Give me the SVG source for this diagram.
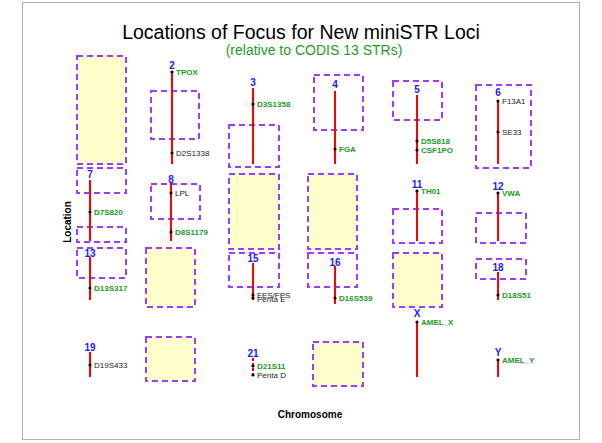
<svg xmlns="http://www.w3.org/2000/svg" width="602" height="443" viewBox="0 0 602 443">
<style>
text{font-family:"Liberation Sans",Arial,sans-serif}
.frame{fill:#fff;stroke:#b0b0b0;stroke-width:1}
.box{fill:none;stroke:#9d3cff;stroke-width:2;stroke-dasharray:6,4}
.ybox{fill:#ffffcc;stroke:#9d3cff;stroke-width:2;stroke-dasharray:6,4}
.chr{stroke:#ff0000;stroke-width:2}
.num{font-size:10px;font-weight:bold;fill:#1a1aff;text-anchor:middle}
.g{font-size:8px;font-weight:bold;fill:#229922}
.k{font-size:8px;fill:#222}
.dot{fill:#000}
.title{font-size:19.5px;fill:#000;text-anchor:middle}
.sub{font-size:14px;fill:#1f9a1f;text-anchor:middle}
.axis{font-size:10px;font-weight:bold;fill:#000;text-anchor:middle}
</style>
<rect class="frame" x="22.5" y="2.5" width="557" height="437"/>
<text class="title" x="301" y="39">Locations of Focus for New miniSTR Loci</text>
<text class="sub" x="314" y="55">(relative to CODIS 13 STRs)</text>
<text class="axis" x="310" y="418">Chromosome</text>
<text class="axis" transform="translate(71,222) rotate(-90)">Location</text>

<g id="chr1"><rect class="ybox" x="77" y="56" width="49" height="108"/></g>

<g id="chr2">
<rect class="box" x="151" y="91" width="48" height="48"/>
<line class="chr" x1="172" y1="72" x2="172" y2="164"/>
<text class="num" x="172" y="69">2</text>
<circle class="dot" cx="172" cy="72" r="1.6"/><text class="g" x="176" y="75">TPOX</text>
<circle class="dot" cx="172" cy="153" r="1.6"/><text class="k" x="176" y="156">D2S1338</text>
</g>

<g id="chr3">
<rect class="box" x="229" y="125" width="50" height="42"/>
<line class="chr" x1="253" y1="88" x2="253" y2="164"/>
<text class="num" x="253" y="86">3</text>
<circle class="dot" cx="253" cy="104" r="1.6"/><text class="g" x="257" y="107">D3S1358</text>
</g>

<g id="chr4">
<rect class="box" x="314" y="75" width="49" height="55"/>
<line class="chr" x1="335" y1="91" x2="335" y2="164"/>
<text class="num" x="335" y="88">4</text>
<circle class="dot" cx="335" cy="149" r="1.6"/><text class="g" x="339" y="152">FGA</text>
</g>

<g id="chr5">
<rect class="box" x="393" y="81" width="49" height="39"/>
<line class="chr" x1="417" y1="95" x2="417" y2="164"/>
<text class="num" x="417" y="93">5</text>
<circle class="dot" cx="417" cy="141" r="1.6"/><text class="g" x="421" y="144">D5S818</text>
<circle class="dot" cx="417" cy="150" r="1.6"/><text class="g" x="421" y="153">CSF1PO</text>
</g>

<g id="chr6">
<rect class="box" x="476" y="85" width="55" height="83"/>
<line class="chr" x1="498" y1="100" x2="498" y2="164"/>
<text class="num" x="498" y="96">6</text>
<circle class="dot" cx="498" cy="101" r="1.6"/><text class="k" x="502" y="104">F13A1</text>
<circle class="dot" cx="498" cy="132" r="1.6"/><text class="k" x="502" y="135">SE33</text>
</g>

<g id="chr7">
<rect class="box" x="77" y="168" width="49" height="25"/>
<rect class="box" x="77" y="227" width="49" height="15"/>
<line class="chr" x1="90" y1="180" x2="90" y2="241"/>
<text class="num" x="90" y="178">7</text>
<circle class="dot" cx="90" cy="212" r="1.6"/><text class="g" x="94" y="215">D7S820</text>
</g>

<g id="chr8">
<rect class="box" x="151" y="184" width="49" height="35"/>
<line class="chr" x1="171" y1="183" x2="171" y2="241"/>
<text class="num" x="171" y="183">8</text>
<circle class="dot" cx="171" cy="193" r="1.6"/><text class="k" x="175" y="196">LPL</text>
<circle class="dot" cx="171" cy="232" r="1.6"/><text class="g" x="175" y="235">D8S1179</text>
</g>

<g id="chr9"><rect class="ybox" x="229" y="174" width="50" height="75"/></g>
<g id="chr10"><rect class="ybox" x="308" y="174" width="49" height="75"/></g>

<g id="chr11">
<rect class="box" x="393" y="209" width="49" height="34"/>
<line class="chr" x1="417" y1="191" x2="417" y2="241"/>
<text class="num" x="417" y="188">11</text>
<circle class="dot" cx="417" cy="191" r="1.6"/><text class="g" x="421" y="194">TH01</text>
</g>

<g id="chr12">
<rect class="box" x="476" y="213" width="50" height="30"/>
<line class="chr" x1="498" y1="193" x2="498" y2="241"/>
<text class="num" x="498" y="190">12</text>
<circle class="dot" cx="498" cy="193" r="1.6"/><text class="g" x="502" y="196">VWA</text>
</g>

<g id="chr13">
<rect class="box" x="77" y="248" width="49" height="30"/>
<line class="chr" x1="90" y1="257" x2="90" y2="300"/>
<text class="num" x="90" y="257">13</text>
<circle class="dot" cx="90" cy="288" r="1.6"/><text class="g" x="94" y="291">D13S317</text>
</g>

<g id="chr14"><rect class="ybox" x="146" y="248" width="49" height="59"/></g>

<g id="chr15">
<rect class="box" x="229" y="253" width="50" height="34"/>
<line class="chr" x1="253" y1="263" x2="253" y2="300"/>
<text class="num" x="253" y="262">15</text>
<circle class="dot" cx="253" cy="295" r="1.6"/><text class="k" x="257" y="298">FES/FPS</text>
<circle class="dot" cx="253" cy="298" r="1.6"/><text class="k" x="257" y="302">Penta E</text>
</g>

<g id="chr16">
<rect class="box" x="308" y="253" width="49" height="34"/>
<line class="chr" x1="335" y1="266" x2="335" y2="304"/>
<text class="num" x="335" y="266">16</text>
<circle class="dot" cx="335" cy="298" r="1.6"/><text class="g" x="339" y="301">D16S539</text>
</g>

<g id="chr17"><rect class="ybox" x="393" y="253" width="49" height="54"/></g>

<g id="chr18">
<rect class="box" x="476" y="259" width="50" height="20"/>
<line class="chr" x1="498" y1="272" x2="498" y2="300"/>
<text class="num" x="498" y="271">18</text>
<circle class="dot" cx="498" cy="295" r="1.6"/><text class="g" x="502" y="298">D18S51</text>
</g>

<g id="chr19">
<line class="chr" x1="90" y1="352" x2="90" y2="377"/>
<text class="num" x="90" y="351">19</text>
<circle class="dot" cx="90" cy="365" r="1.6"/><text class="k" x="94" y="368">D19S433</text>
</g>

<g id="chr20"><rect class="ybox" x="146" y="337" width="49" height="44"/></g>

<g id="chr21">
<line class="chr" x1="253" y1="358" x2="253" y2="378" stroke-dasharray="3,2"/>
<text class="num" x="253" y="357">21</text>
<circle class="dot" cx="253" cy="366" r="1.6"/><text class="g" x="257" y="369">D21S11</text>
<circle class="dot" cx="253" cy="375" r="1.6"/><text class="k" x="257" y="378">Penta D</text>
</g>

<g id="chr22"><rect class="ybox" x="313" y="342" width="50" height="44"/></g>

<g id="chrX">
<line class="chr" x1="417" y1="322" x2="417" y2="377"/>
<text class="num" x="417" y="317">X</text>
<circle class="dot" cx="417" cy="322" r="1.6"/><text class="g" x="421" y="325">AMEL_X</text>
</g>

<g id="chrY">
<line class="chr" x1="498" y1="360" x2="498" y2="377"/>
<text class="num" x="498" y="356">Y</text>
<circle class="dot" cx="498" cy="360" r="1.6"/><text class="g" x="502" y="363">AMEL_Y</text>
</g>
</svg>
